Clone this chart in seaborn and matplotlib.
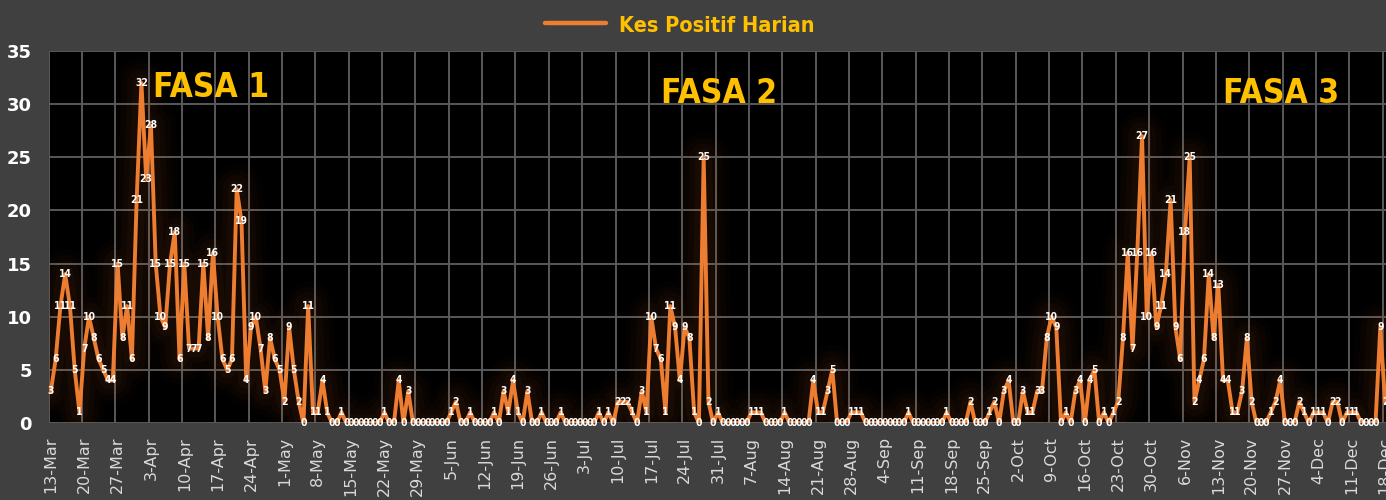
import numpy as np
import pandas as pd
import matplotlib
matplotlib.use("Agg")
import matplotlib.pyplot as plt
import seaborn as sns
from matplotlib import font_manager
from matplotlib.lines import Line2D

# daily new positive cases, one value per day from 13-Mar
start_date = "2020-03-13"
daily_cases = [
    3, 6, 11, 14, 11, 5, 1, 7, 10, 8, 6, 5, 4, 4, 15, 8, 11, 6, 21, 32, 23, 28, 15,
    10, 9, 15, 18, 6, 15, 7, 7, 7, 15, 8, 16, 10, 6, 5, 6, 22, 19, 4, 9, 10, 7, 3, 8,
    6, 5, 2, 9, 5, 2, 0, 11, 1, 1, 4, 1, 0, 0, 1,
    0, 0, 0, 0, 0, 0, 0, 0,
    1, 0, 0, 4, 0, 3, 0, 0, 0, 0, 0, 0, 0, 0, 1, 2, 0, 0, 1, 0, 0, 0, 0,
    1, 0, 3, 1, 4, 1, 0, 3, 0, 0, 1, 0, 0, 0, 1, 0, 0, 0, 0, 0, 0, 0,
    1, 0, 1, 0, 2, 2, 2, 1, 0, 3, 1, 10, 7, 6, 1, 11, 9, 4, 9, 8, 1, 0, 25, 2, 0, 1,
    0, 0, 0, 0, 0, 0, 1, 1, 1, 0, 0, 0, 0, 1, 0, 0, 0, 0, 0,
    4, 1, 1, 3, 5, 0, 0, 0, 1, 1, 1, 0, 0, 0, 0, 0, 0, 0, 0, 0, 1,
    0, 0, 0, 0, 0, 0, 0, 1, 0, 0, 0, 0, 2, 0, 0, 0, 1, 2, 0, 3, 4, 0, 0, 3, 1, 1,
    3, 3, 8, 10, 9, 0, 1, 0, 3, 4, 0, 4, 5, 0, 1, 0, 1, 2, 8, 16, 7, 16, 27,
    10, 16, 9, 11, 14, 21, 9, 6, 18, 25, 2, 4, 6, 14, 8, 13, 4, 4, 1, 1, 3, 8, 2,
    0, 0, 0, 1, 2, 4, 0, 0, 0, 2, 1, 0, 1, 1, 1, 0, 2, 2, 0, 1, 1, 1, 0, 0, 0, 0, 9, 2,
]
series_name = "Kes Positif Harian"
phase_labels = ["FASA 1", "FASA 2", "FASA 3"]
phase_days = [21.4, 128.0, 245.9]
phase_levels = [31.6, 31.0, 31.0]
y_ticks = [0, 5, 10, 15, 20, 25, 30, 35]

dates = pd.date_range(start_date, periods=len(daily_cases), freq="D")
df = pd.DataFrame({"day": np.arange(len(daily_cases)), "cases": daily_cases})
tick_days = list(range(0, len(daily_cases), 7))
tick_labels = [f"{dates[d].day}-{dates[d].strftime('%b')}" for d in tick_days]

sns.set_theme(style="dark")

# look for a narrow face, else fall back to Roboto
narrow = None
for f in font_manager.fontManager.ttflist:
    if "Narrow" in f.name or "Condensed" in f.name or "condensed" in str(f.stretch):
        narrow = dict(family=f.name, stretch=f.stretch)
        break
if narrow is None:
    narrow = dict(family="Roboto")

bg = "#404040"
orange = "#ED7D31"
gold = "#FFC000"
grid_col = "#595959"

fig = plt.figure(figsize=(13.86, 5.0), dpi=100, facecolor=bg)
ax = fig.add_axes([48.5 / 1386, 77 / 500, 1 - 48.5 / 1386, 372 / 500])
ax.set_facecolor("black")

# soft glow under the line
for lw, a in [(36, 0.02), (28, 0.025), (20, 0.03), (12, 0.04)]:
    ax.plot(df["day"], df["cases"], color=orange, lw=lw, alpha=a,
            solid_joinstyle="round", solid_capstyle="round", zorder=2)

sns.lineplot(data=df, x="day", y="cases", color=orange, lw=2.8, ax=ax,
             legend=False, zorder=3)

for d, v in zip(df["day"], df["cases"]):
    ax.text(d, v, str(v), ha="center", va="center", color="white",
            fontsize=7.5, fontweight="bold", zorder=5, clip_on=False, **narrow)

phase_texts = []
for lab, d, lv in zip(phase_labels, phase_days, phase_levels):
    phase_texts.append(ax.text(d, lv, lab, ha="left", va="center", color=gold,
                               fontsize=30, fontweight="bold", zorder=6, **narrow))

ax.set_xlim(-0.5, 280.2)
ax.set_ylim(0, 35)
ax.set_xticks(tick_days)
ax.set_xticklabels(tick_labels, rotation=90, color="#D9D9D9", fontsize=11.5)
ax.set_xticks(np.arange(-0.5, len(daily_cases), 7), minor=True)
ax.set_yticks(y_ticks)
ax.set_yticklabels([str(t) for t in y_ticks], color="white", fontsize=13,
                   fontweight="bold")
ax.tick_params(axis="x", which="both", length=0, pad=10)
ax.tick_params(axis="y", length=0, pad=12)
ax.grid(False)
ax.grid(which="minor", axis="x", color=grid_col, lw=1.4)
ax.grid(which="major", axis="y", color=grid_col, lw=1.4)
ax.set_axisbelow(True)
for s in ax.spines.values():
    s.set_visible(False)
ax.set_xlabel("")
ax.set_ylabel("")

handle = Line2D([0], [0], color=orange, lw=3.2)
leg = fig.legend([handle], [series_name], loc="center", bbox_to_anchor=(680 / 1386, 1 - 25 / 500),
                 frameon=False, handlelength=2.3, handletextpad=0.5,
                 prop=dict(size=19, weight="bold", **narrow), labelcolor=gold)

# fit the big texts to the widths seen in the chart
fig.canvas.draw()
r = fig.canvas.get_renderer()
for t in phase_texts:
    w = t.get_window_extent(r).width
    t.set_fontsize(30 * min(1.0, 116 / w))
lt = leg.get_texts()[0]
w = lt.get_window_extent(r).width
lt.set_fontsize(19 * min(1.0, 196 / w))

fig.savefig("out.png", dpi=100, facecolor=bg)
